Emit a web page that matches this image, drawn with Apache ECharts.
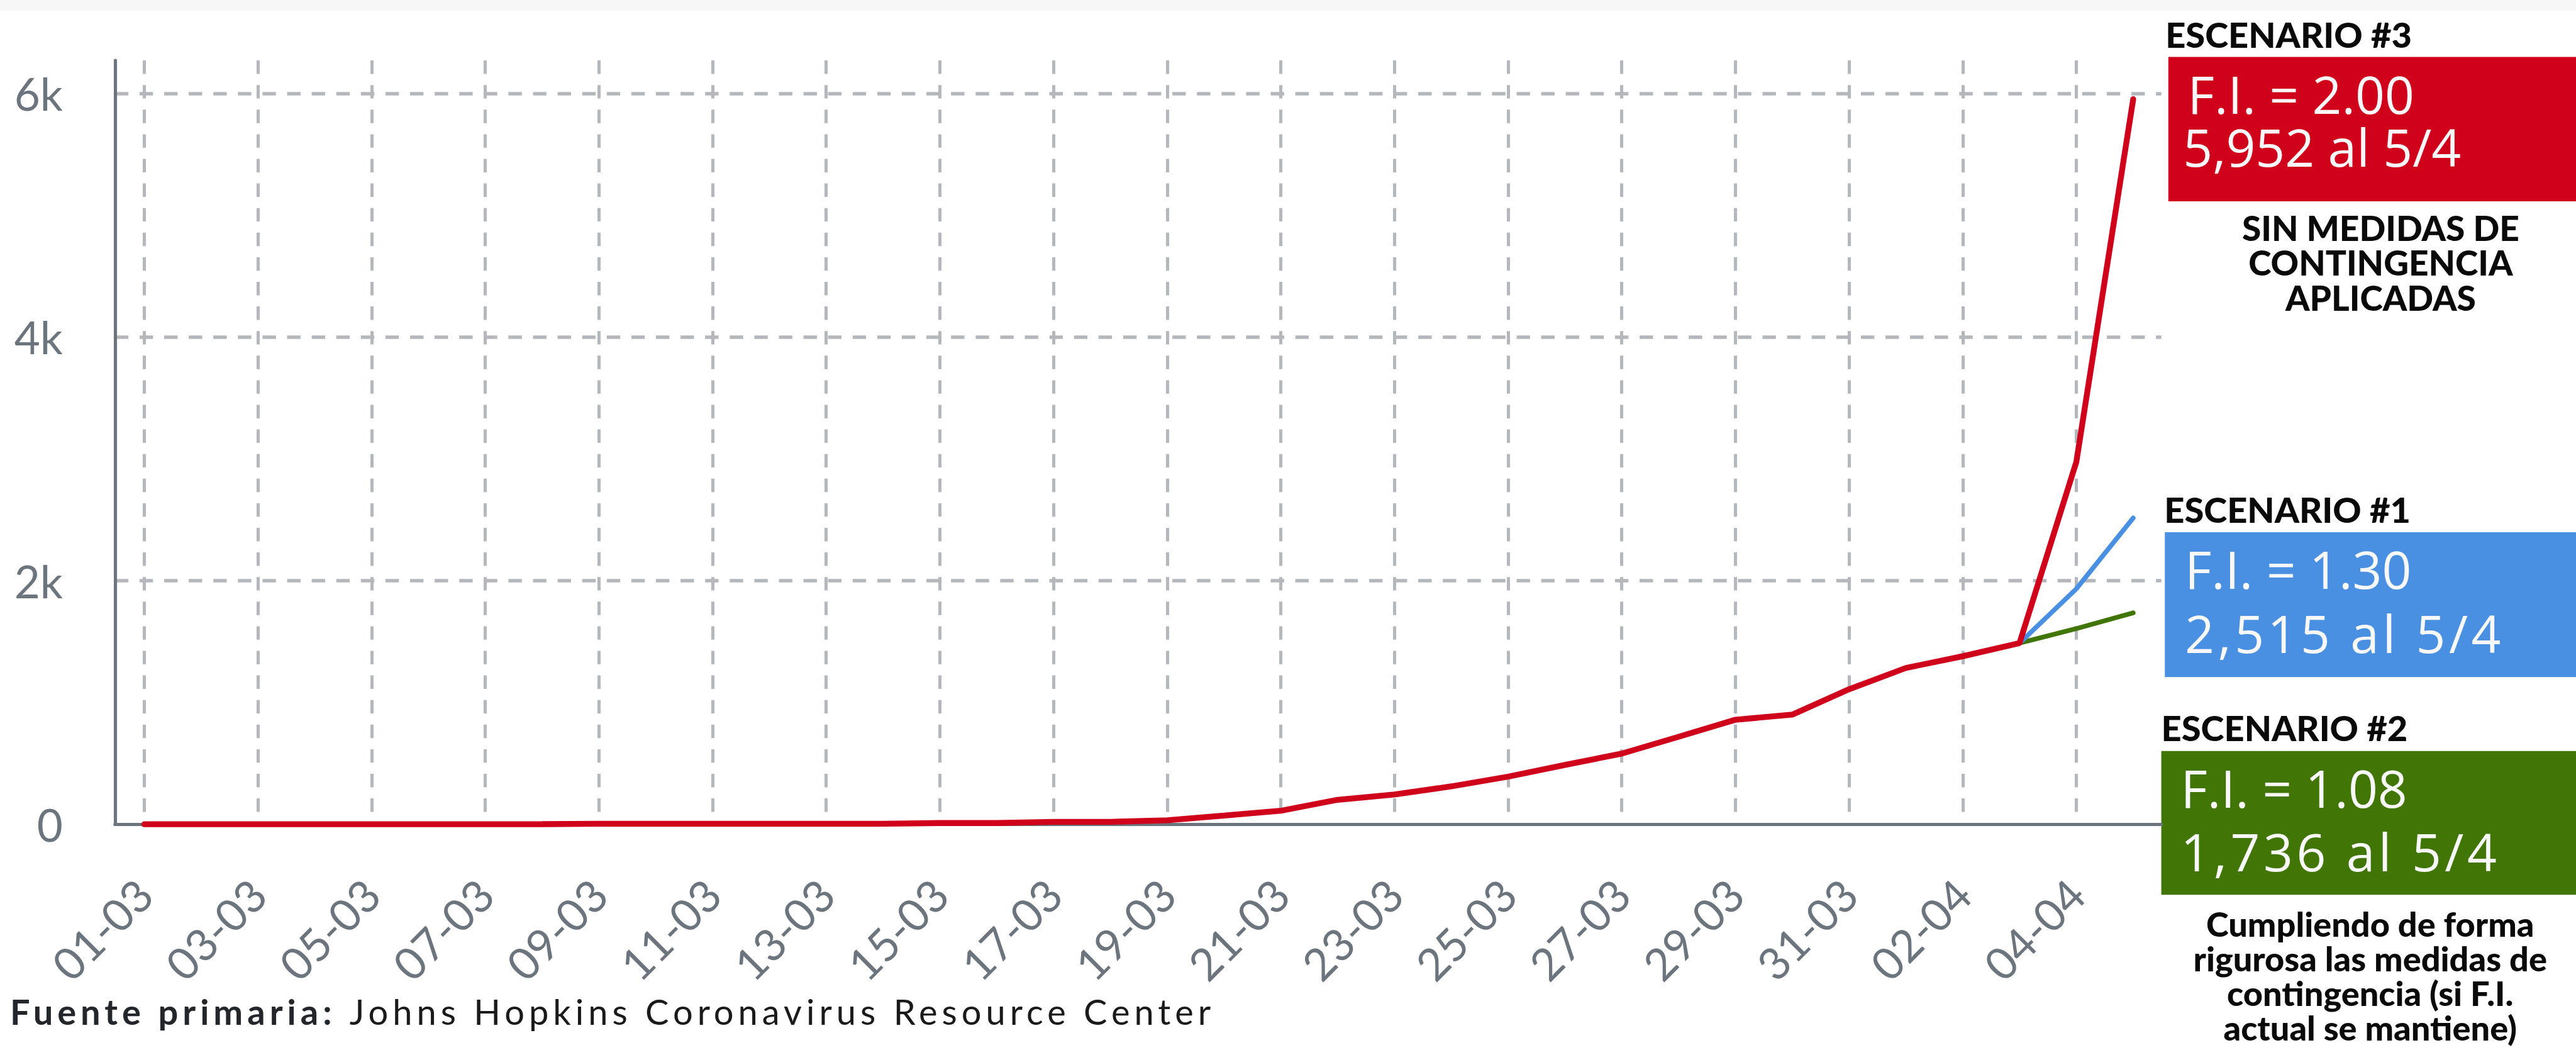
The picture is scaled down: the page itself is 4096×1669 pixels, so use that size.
<!DOCTYPE html>
<html lang="es">
<head>
    <meta charset="UTF-8">
    <script src="https://cdn.jsdelivr.net/npm/echarts@6/dist/echarts.min.js"></script>
    <title>Escenarios de casos confirmados</title>
    <style>
        html, body { margin: 0; height: 100%; background: #ffffff; }
        #grafica { width: 4096px; height: 1669px; }
        /* espaciado de letras para la fuente y las cajas */
        #grafica text[style*="Lato, Arial"] { letter-spacing: 7px; }
        #grafica text[style*="Open"][style*="Arial"] { letter-spacing: 5.5px; }
    </style>
</head>
<body>
<div id="grafica"></div>

<script>
    // fechas del eje x
    var fechas = ['01-03', '02-03', '03-03', '04-03', '05-03', '06-03', '07-03', '08-03', '09-03', '10-03',
        '11-03', '12-03', '13-03', '14-03', '15-03', '16-03', '17-03', '18-03', '19-03', '20-03',
        '21-03', '22-03', '23-03', '24-03', '25-03', '26-03', '27-03', '28-03', '29-03', '30-03', '31-03',
        '01-04', '02-04', '03-04', '04-04', '05-04'];

    // casos confirmados hasta el 03-04
    var casos = [1, 1, 1, 1, 1, 1, 1, 2, 5, 5, 5, 5, 5, 5, 11, 11, 21, 21, 34, 72,
        112, 202, 245, 312, 392, 488, 581, 719, 859, 901, 1109, 1284, 1380, 1488];

    // proyecciones 04-04 y 05-04
    var escenario3 = [2976, 5952];   // F.I. = 2.00
    var escenario1 = [1934, 2515];   // F.I. = 1.30
    var escenario2 = [1607, 1736];   // F.I. = 1.08

    var ticksY = [0, 2000, 4000, 6000];
    var etiquetasY = ['0', '2k', '4k', '6k'];
    var maxEjeY = 6270;

    var rojo = '#d0021b', azul = '#4a90e2', verde = '#417505', gris = '#6c757d', rejilla = '#b4b7bb';

    // todo se midio sobre 4392px de ancho
    var S = 4096 / 4392;
    function p(v) {
        return Math.round(v * S * 10) / 10;
    }

    function proyeccion(valores) {
        var d = [];
        for (var i = 0; i < casos.length - 1; i++) {
            d.push('-');
        }
        d.push(casos[casos.length - 1]);
        return d.concat(valores);
    }

    var serieRoja = casos.concat(escenario3);
    var serieAzul = proyeccion(escenario1);
    var serieVerde = proyeccion(escenario2);

    function texto(x, y, str, size, weight, family, color, align, alto) {
        var st = {
            text: str, fill: color,
            fontSize: p(size), fontWeight: weight, fontFamily: family,
            align: align, textAlign: align,
            verticalAlign: 'middle', textVerticalAlign: 'middle'
        };
        if (alto) {
            st.lineHeight = p(alto);
        }
        return {type: 'text', x: p(x), y: p(y), silent: true, style: st};
    }

    function caja(x, y, w, h, color) {
        return {
            type: 'rect', silent: true,
            shape: {x: p(x), y: p(y), width: p(w), height: p(h)},
            style: {fill: color}
        };
    }

    var negro = '#0a0a0a', blanco = '#f8f8f8';
    var lato = 'Lato, sans-serif';
    var fuenteCaja = 'Open Sans, sans-serif';
    var fuenteCajaAncha = 'Open Sans, Arial';

    var myChart = echarts.init(document.getElementById('grafica'), null, {renderer: 'svg'});

    var option = {
        animation: false,
        backgroundColor: '#ffffff',
        grid: [
            {left: p(246), top: p(103), width: p(3391), height: p(1302)},
            {left: p(196), top: p(103), width: p(3489), height: p(1302)}
        ],
        xAxis: [
            {
                gridIndex: 0, type: 'category', data: fechas, boundaryGap: false,
                axisLine: {show: false},
                axisTick: {show: false, interval: 1},
                axisLabel: {
                    interval: 1, rotate: 45, margin: p(106),
                    fontFamily: lato, fontSize: p(76), color: gris
                },
                splitLine: {
                    show: true, interval: 1,
                    lineStyle: {color: rejilla, width: p(5.5), type: [p(23), p(19)]}
                }
            },
            {
                gridIndex: 1, type: 'value', min: 0, max: 1, offset: p(3),
                axisLine: {show: true, lineStyle: {color: gris, width: p(5.5)}},
                axisTick: {show: false},
                axisLabel: {show: false},
                splitLine: {show: false}
            }
        ],
        yAxis: [
            {gridIndex: 0, type: 'value', min: 0, max: maxEjeY, show: false, splitLine: {show: false}},
            {
                gridIndex: 1, type: 'value', min: 0, max: maxEjeY, interval: 2000,
                axisLine: {show: true, lineStyle: {color: gris, width: p(5.5)}},
                axisTick: {show: false},
                axisLabel: {
                    margin: p(89), showMaxLabel: false,
                    fontFamily: lato, fontSize: p(76), color: gris,
                    formatter: function (v) {
                        var i = ticksY.indexOf(v);
                        return i >= 0 ? etiquetasY[i] : '';
                    }
                },
                splitLine: {
                    show: true, showMinLine: false, showMaxLine: false,
                    lineStyle: {color: rejilla, width: p(6), type: [p(23), p(19)]}
                }
            }
        ],
        series: [
            {
                name: 'Escenario #2', type: 'line', xAxisIndex: 0, yAxisIndex: 0,
                data: serieVerde, symbol: 'none', z: 3,
                lineStyle: {color: verde, width: p(8), cap: 'round'}
            },
            {
                name: 'Escenario #1', type: 'line', xAxisIndex: 0, yAxisIndex: 0,
                data: serieAzul, symbol: 'none', z: 4,
                lineStyle: {color: azul, width: p(8), cap: 'round'}
            },
            {
                name: 'Escenario #3', type: 'line', xAxisIndex: 0, yAxisIndex: 0,
                data: serieRoja, symbol: 'none', z: 5,
                lineStyle: {color: rojo, width: p(10), cap: 'round'}
            }
        ],
        graphic: [
            caja(0, 0, 4392, 18, '#f7f7f7'),

            texto(3692, 58, 'ESCENARIO #3', 60, 900, lato, negro, 'left'),
            caja(3697, 97, 695, 246, rojo),
            texto(3730, 160, 'F.I. = 2.00', 88, 'normal', fuenteCaja, blanco, 'left'),
            texto(3722, 250, '5,952 al 5/4', 88, 'normal', fuenteCaja, blanco, 'left'),
            texto(4059, 447.5, 'SIN MEDIDAS DE\nCONTINGENCIA\nAPLICADAS', 59, 900, lato, negro, 'center', 59.5),

            texto(3690, 868, 'ESCENARIO #1', 60, 900, lato, negro, 'left'),
            caja(3691, 907, 701, 247, azul),
            texto(3725, 969, 'F.I. = 1.30', 88, 'normal', fuenteCaja, blanco, 'left'),
            texto(3725, 1079, '2,515 al 5/4', 88, 'normal', fuenteCajaAncha, blanco, 'left'),

            texto(3685, 1240, 'ESCENARIO #2', 60, 900, lato, negro, 'left'),
            caja(3685, 1280, 707, 245, verde),
            texto(3718, 1342, 'F.I. = 1.08', 88, 'normal', fuenteCaja, blanco, 'left'),
            texto(3718, 1451, '1,736 al 5/4', 88, 'normal', fuenteCajaAncha, blanco, 'left'),
            texto(4041, 1662.5, 'Cumpliendo de forma\nrigurosa las medidas de\ncontingencia (si F.I.\nactual se mantiene)',
                58, 900, lato, negro, 'center', 59),

            texto(17, 1724, 'Fuente primaria:', 60, 'bold', 'Lato, Arial', '#23272b', 'left'),
            texto(596, 1724, 'Johns Hopkins Coronavirus Resource Center', 60, 'normal', 'Lato, Arial', '#1a1a1a', 'left')
        ]
    };
    myChart.setOption(option, true);
</script>
</body>
</html>
